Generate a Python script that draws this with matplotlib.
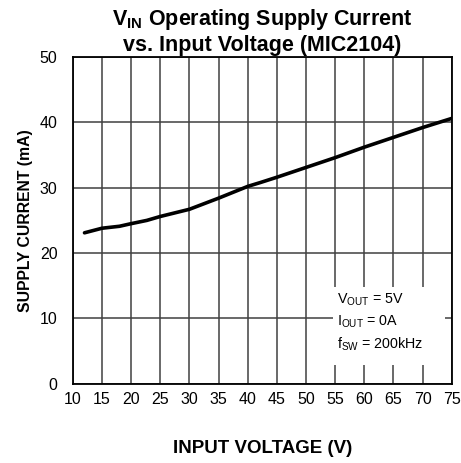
import matplotlib
matplotlib.use('Agg')
import matplotlib.pyplot as plt
from matplotlib.patches import Rectangle

plt.rcParams['font.family'] = ['Liberation Sans', 'DejaVu Sans']
plt.rcParams['mathtext.fontset'] = 'custom'
plt.rcParams['mathtext.rm'] = 'Liberation Sans'
plt.rcParams['mathtext.it'] = 'Liberation Sans'
plt.rcParams['mathtext.bf'] = 'Liberation Sans:bold'

# curve
vin = [12, 15, 18, 20, 22.7, 25, 30, 35, 40, 42.2, 45, 50, 55, 60, 65, 70, 75]
isupply = [23.1, 23.8, 24.1, 24.5, 25.0, 25.6, 26.7, 28.4, 30.2, 30.8, 31.6,
           33.1, 34.6, 36.2, 37.7, 39.2, 40.6]

x_ticks = list(range(10, 80, 5))
y_ticks = [0, 10, 20, 30, 40, 50]

fig = plt.figure(figsize=(4.61, 4.63), dpi=100)
ax = fig.add_axes([0.158, 0.171, 0.822, 0.706])

ax.plot(vin, isupply, color='black', lw=2.6, zorder=4, solid_capstyle='round')

ax.set_xlim(10, 75)
ax.set_ylim(0, 50)
ax.set_xticks(x_ticks)
ax.set_yticks(y_ticks)
ax.tick_params(length=0, labelsize=11.5)
ax.tick_params(axis='x', pad=6)
ax.tick_params(axis='y', pad=11)
ax.grid(True, color='#404040', lw=1.1, zorder=1)
ax.set_axisbelow(True)
for s in ax.spines.values():
    s.set_linewidth(1.3)
    s.set_zorder(5)

# white box behind the conditions text
ax.add_patch(Rectangle((0.686, 0.058), 0.295, 0.239, transform=ax.transAxes,
                       facecolor='white', edgecolor='none', zorder=2))
ax.text(0.697, 0.257, r'V$_{OUT}$ = 5V', transform=ax.transAxes, fontsize=10.3,
        va='center', zorder=3)
ax.text(0.697, 0.19, r'I$_{OUT}$ = 0A', transform=ax.transAxes, fontsize=10.3,
        va='center', zorder=3)
ax.text(0.697, 0.122, r'f$_{SW}$ = 200kHz', transform=ax.transAxes, fontsize=10.3,
        va='center', zorder=3)

ax.set_title(r'V$_{\mathbf{IN}}$ Operating Supply Current' + '\nvs. Input Voltage (MIC2104)',
             fontsize=15.5, fontweight='bold', pad=4, linespacing=1.2)
ax.set_xlabel('INPUT VOLTAGE (V)', fontsize=13.5, fontweight='bold', labelpad=24)
ax.set_ylabel('SUPPLY CURRENT (mA)', fontsize=11.3, fontweight='bold', labelpad=5)

fig.savefig('out.png', dpi=100)
